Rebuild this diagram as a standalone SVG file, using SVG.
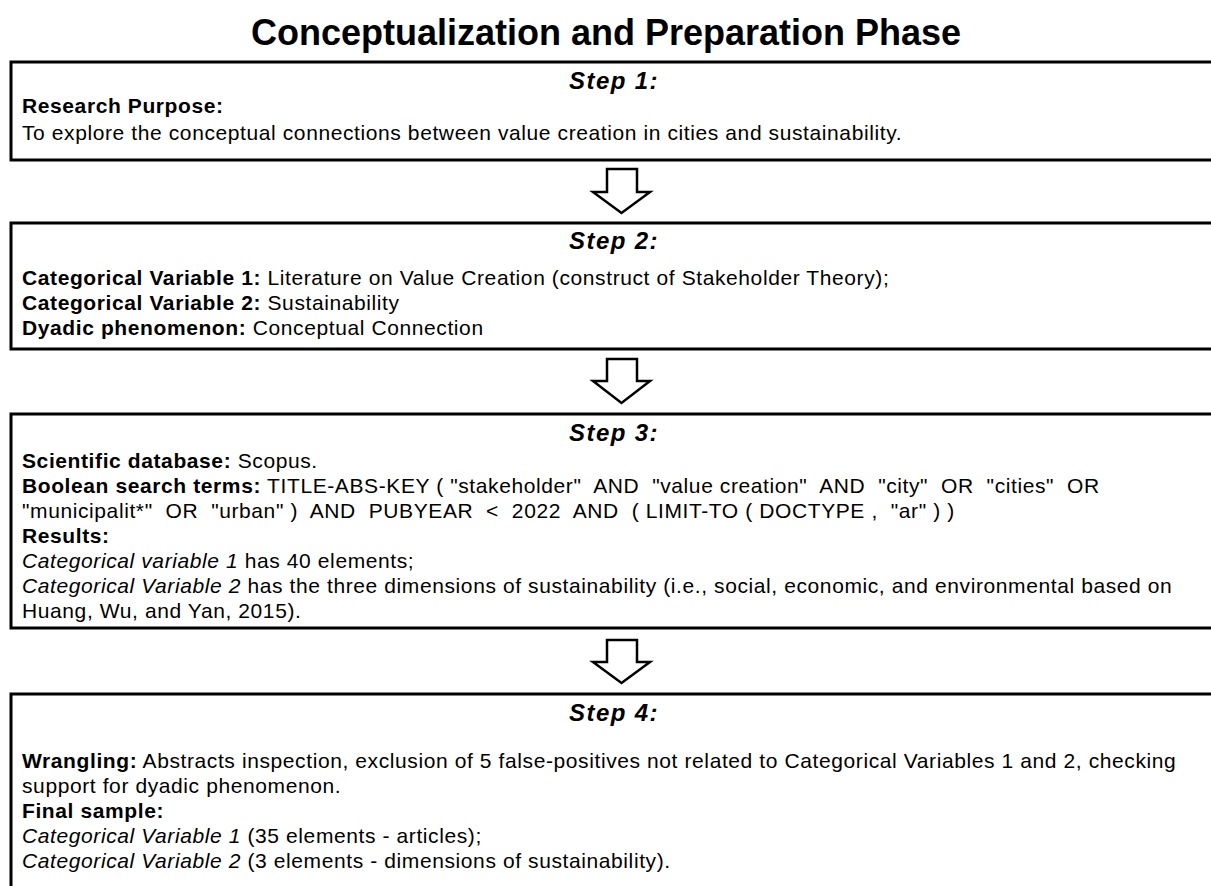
<svg xmlns="http://www.w3.org/2000/svg" width="1211" height="886" viewBox="0 0 1211 886">
<style>
text{font-family:"Liberation Sans",Arial,sans-serif;fill:#000;white-space:pre}
.title{font-size:36px;font-weight:bold}
.step{font-size:24px;font-weight:bold;font-style:italic;letter-spacing:1.4px}
.t{font-size:21px;letter-spacing:0.6px}
.b{font-weight:bold}
.i{font-style:italic}
.box{fill:#fff;stroke:#000;stroke-width:3}
.arr{fill:#fff;stroke:#000;stroke-width:2.5;stroke-linejoin:miter}
</style>
<rect width="1211" height="886" fill="#fff"/>
<text class="title" x="606" y="45" text-anchor="middle">Conceptualization and Preparation Phase</text>
<g id="step1">
<rect class="box" x="11" y="62" width="1210" height="98"/>
<text class="step" x="614" y="89" text-anchor="middle">Step 1:</text>
<text class="t b" x="22" y="113">Research Purpose:</text>
<text class="t" x="22" y="140">To explore the conceptual connections between value creation in cities and sustainability.</text>
</g>
<g id="step2">
<rect class="box" x="11" y="223" width="1210" height="126"/>
<text class="step" x="614" y="249" text-anchor="middle">Step 2:</text>
<text class="t" x="22" y="285"><tspan class="b">Categorical Variable 1:</tspan> Literature on Value Creation (construct of Stakeholder Theory);</text>
<text class="t" x="22" y="310"><tspan class="b">Categorical Variable 2:</tspan> Sustainability</text>
<text class="t" x="22" y="335"><tspan class="b">Dyadic phenomenon:</tspan> Conceptual Connection</text>
</g>
<g id="step3">
<rect class="box" x="11" y="414" width="1210" height="214"/>
<text class="step" x="614" y="441" text-anchor="middle">Step 3:</text>
<text class="t" x="22" y="468"><tspan class="b">Scientific database:</tspan> Scopus.</text>
<text class="t" x="22" y="493"><tspan class="b">Boolean search terms:</tspan> TITLE-ABS-KEY ( "stakeholder"  AND  "value creation"  AND  "city"  OR  "cities"  OR</text>
<text class="t" x="22" y="518">"municipalit*"  OR  "urban" )  AND  PUBYEAR  &lt;  2022  AND  ( LIMIT-TO ( DOCTYPE ,  "ar" ) )</text>
<text class="t b" x="22" y="543">Results:</text>
<text class="t" x="22" y="568"><tspan class="i">Categorical variable 1</tspan> has 40 elements;</text>
<text class="t" x="22" y="593"><tspan class="i">Categorical Variable 2</tspan> has the three dimensions of sustainability (i.e., social, economic, and environmental based on</text>
<text class="t" x="22" y="618">Huang, Wu, and Yan, 2015).</text>
</g>
<g id="step4">
<rect class="box" x="11" y="694" width="1210" height="210"/>
<text class="step" x="614" y="721" text-anchor="middle">Step 4:</text>
<text class="t" x="22" y="768"><tspan class="b">Wrangling:</tspan> Abstracts inspection, exclusion of 5 false-positives not related to Categorical Variables 1 and 2, checking</text>
<text class="t" x="22" y="793">support for dyadic phenomenon.</text>
<text class="t b" x="22" y="818">Final sample:</text>
<text class="t" x="22" y="843"><tspan class="i">Categorical Variable 1</tspan> (35 elements - articles);</text>
<text class="t" x="22" y="868"><tspan class="i">Categorical Variable 2</tspan> (3 elements - dimensions of sustainability).</text>
</g>
<g id="connectors">
<path class="arr" d="M607,169 H637 V192 H650 L621.5,213 L593,192 H607 Z"/>
<path class="arr" d="M607,359 H637 V381 H650 L621.5,403 L593,381 H607 Z"/>
<path class="arr" d="M607,640 H637 V662 H650 L621.5,683 L593,662 H607 Z"/>
</g>
</svg>
